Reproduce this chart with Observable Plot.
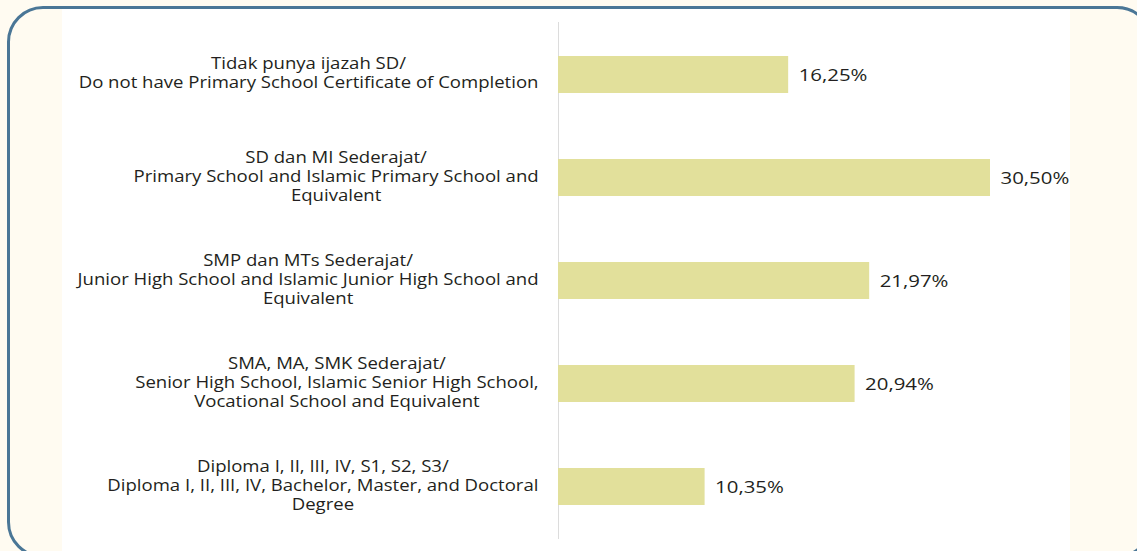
<!DOCTYPE html>
<html>
<head>
<meta charset="utf-8">
<script src="https://cdn.jsdelivr.net/npm/d3@7"></script>
<script src="https://cdn.jsdelivr.net/npm/@observablehq/plot@0.6"></script>
<style>
  html, body { margin: 0; padding: 0; }
  body { width: 1137px; height: 551px; background: #fffbf1; position: relative; overflow: hidden; font-family: "Open Sans", sans-serif; }
  #frame { position: absolute; left: 7px; top: 6px; width: 1140px; height: 546px; border: 3px solid #4a7696; border-radius: 36px; overflow: hidden; background: #fffbf1; }
  #panel { position: absolute; left: 52px; top: 0; width: 1008px; height: 100%; background: #ffffff; }
  #chart { position: absolute; left: 0; top: 0; }
  #chart svg { background: transparent; }
</style>
</head>
<body>
<div id="frame"><div id="panel"></div></div>
<div id="chart"></div>
<script>
const categories = [
  "Tidak punya ijazah SD/\nDo not have Primary School Certificate of Completion",
  "SD dan MI Sederajat/\nPrimary School and Islamic Primary School and\nEquivalent",
  "SMP dan MTs Sederajat/\nJunior High School and Islamic Junior High School and\nEquivalent",
  "SMA, MA, SMK Sederajat/\nSenior High School, Islamic Senior High School,\nVocational School and Equivalent",
  "Diploma I, II, III, IV, S1, S2, S3/\nDiploma I, II, III, IV, Bachelor, Master, and Doctoral\nDegree"
];
const values = [16.25, 30.50, 21.97, 20.94, 10.35];
const valueLabels = ["16,25%", "30,50%", "21,97%", "20,94%", "10,35%"];

const data = categories.map((c, i) => ({category: c, value: values[i], label: valueLabels[i]}));

const plot = Plot.plot({
  width: 1137,
  height: 551,
  marginLeft: 558,
  marginRight: 147,
  marginTop: 22,
  marginBottom: 12,
  style: {background: "transparent", fontFamily: "Open Sans, sans-serif"},
  x: {domain: [0, 30.5], axis: null},
  y: {domain: categories, axis: null, paddingInner: 0.64, paddingOuter: 0.32},
  marks: [
    Plot.ruleX([0], {stroke: "#dcdcdc", strokeWidth: 1}),
    Plot.barX(data, {x: "value", y: "category", fill: "#e2e09b"}),
    Plot.text(data, {x: "value", y: "category", text: "label", textAnchor: "start", dx: 10, dy: 1, fontSize: 17, fill: "#231f20", className: "val-label"}),
    Plot.text(data, {x: 0, y: "category", text: "category", textAnchor: "end", dx: -20, dy: -2.5, fontSize: 16, lineHeight: 1.19, fill: "#231f20", className: "cat-label"})
  ]
});

document.getElementById("chart").appendChild(plot);

// the reference type is horizontally wider: stretch text, center-align lines of each label block
const SX_CAT = 1.16, SX_VAL = 1.2;
plot.querySelectorAll(".cat-label text").forEach(el => {
  const before = el.getBBox();
  const right = before.x + before.width;
  el.setAttribute("text-anchor", "middle");
  const after = el.getBBox();
  const c = after.x + after.width / 2;
  const shift = right - c - SX_CAT * after.width / 2;
  const t = el.getAttribute("transform") || "";
  el.setAttribute("transform", `${t} translate(${shift},0) translate(${c},0) scale(${SX_CAT},1) translate(${-c},0)`.trim());
});
plot.querySelectorAll(".val-label text").forEach(el => {
  const b = el.getBBox();
  const l = b.x;
  const t = el.getAttribute("transform") || "";
  el.setAttribute("transform", `${t} translate(${l},0) scale(${SX_VAL},1) translate(${-l},0)`.trim());
});
</script>
</body>
</html>
